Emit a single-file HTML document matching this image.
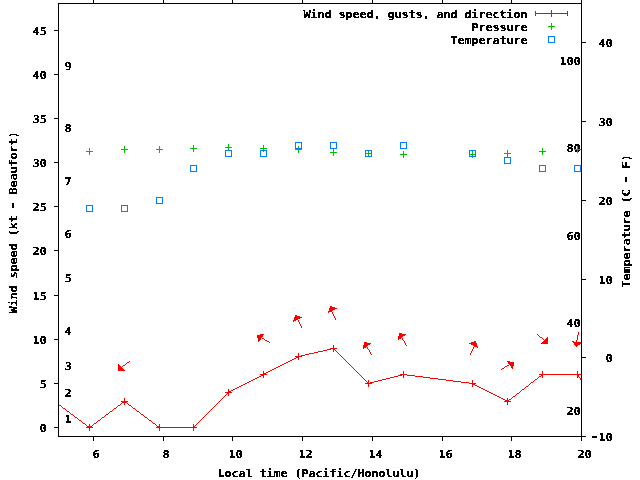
<!DOCTYPE html>
<html lang="en"><head><meta charset="utf-8"><title>Wind speed, pressure and temperature</title>
<style>
html,body{margin:0;padding:0;background:#fff;width:640px;height:480px;overflow:hidden}
svg{display:block}
.t text{font-family:"DejaVu Sans Mono", "Liberation Mono", monospace;font-weight:bold;font-size:10.96px;letter-spacing:-0.234px;fill:#000;stroke:#000;stroke-width:0.15px;white-space:pre;text-rendering:geometricPrecision}
</style></head><body>
<svg width="640" height="480" viewBox="0 0 640 480">
<rect width="640" height="480" fill="#ffffff"/>
<filter id="px" x="0" y="0" width="100%" height="100%" filterUnits="userSpaceOnUse" color-interpolation-filters="sRGB"><feComponentTransfer><feFuncA type="discrete" tableValues="0 0 1 1"/></feComponentTransfer></filter>
<g class="t" filter="url(#px)">
<text transform="translate(39.45,432) scale(1.1000,1)">0</text>
<text transform="translate(39.45,388) scale(1.1000,1)">5</text>
<text transform="translate(32.45,344) scale(1.1000,1)">10</text>
<text transform="translate(32.45,300) scale(1.1000,1)">15</text>
<text transform="translate(32.45,255) scale(1.1000,1)">20</text>
<text transform="translate(32.45,211) scale(1.1000,1)">25</text>
<text transform="translate(32.45,167) scale(1.1000,1)">30</text>
<text transform="translate(32.45,123) scale(1.1000,1)">35</text>
<text transform="translate(32.45,79) scale(1.1000,1)">40</text>
<text transform="translate(32.45,35) scale(1.1000,1)">45</text>
<text transform="translate(591.45,441) scale(1.1000,1)"><tspan font-size="14.5" dx="-1.35" dy="0.2" style="letter-spacing:-1.01px">-</tspan><tspan dy="-0.2">10</tspan></text>
<text transform="translate(605.45,362) scale(1.1000,1)">0</text>
<text transform="translate(598.45,284) scale(1.1000,1)">10</text>
<text transform="translate(598.45,205) scale(1.1000,1)">20</text>
<text transform="translate(598.45,126) scale(1.1000,1)">30</text>
<text transform="translate(598.45,47) scale(1.1000,1)">40</text>
<text transform="translate(92.45,458) scale(1.1000,1)">6</text>
<text transform="translate(162.45,458) scale(1.1000,1)">8</text>
<text transform="translate(228.45,458) scale(1.1000,1)">10</text>
<text transform="translate(298.45,458) scale(1.1000,1)">12</text>
<text transform="translate(368.45,458) scale(1.1000,1)">14</text>
<text transform="translate(438.45,458) scale(1.1000,1)">16</text>
<text transform="translate(507.45,458) scale(1.1000,1)">18</text>
<text transform="translate(577.45,458) scale(1.1000,1)">20</text>
<text transform="translate(64.45,423) scale(1.1000,1)">1</text>
<text transform="translate(64.45,397) scale(1.1000,1)">2</text>
<text transform="translate(64.45,370) scale(1.1000,1)">3</text>
<text transform="translate(64.45,335) scale(1.1000,1)">4</text>
<text transform="translate(64.45,282) scale(1.1000,1)">5</text>
<text transform="translate(64.45,238) scale(1.1000,1)">6</text>
<text transform="translate(64.45,185) scale(1.1000,1)">7</text>
<text transform="translate(64.45,132) scale(1.1000,1)">8</text>
<text transform="translate(64.45,70) scale(1.1000,1)">9</text>
<text transform="translate(566.45,415) scale(1.1000,1)">20</text>
<text transform="translate(566.45,327) scale(1.1000,1)">40</text>
<text transform="translate(566.45,240) scale(1.1000,1)">60</text>
<text transform="translate(566.45,152) scale(1.1000,1)">80</text>
<text transform="translate(559.45,65) scale(1.1000,1)">100</text>
<text transform="translate(217.45,477) scale(1.1000,1)">Local time (Pacific/Honolulu)</text>
<text transform="translate(17,313.55) rotate(-90) scale(1.1000,1)">Wind speed (kt <tspan font-size="14.5" dx="-1.35" dy="0.2" style="letter-spacing:-1.01px">-</tspan><tspan dy="-0.2"> Beaufort)</tspan></text>
<text transform="translate(630,287.55) rotate(-90) scale(1.1000,1)">Temperature (C <tspan font-size="14.5" dx="-1.35" dy="0.2" style="letter-spacing:-1.01px">-</tspan><tspan dy="-0.2"> F)</tspan></text>
<text transform="translate(303.45,18) scale(1.1000,1)">Wind speed, gusts, and direction</text>
<text transform="translate(471.45,31) scale(1.1000,1)">Pressure</text>
<text transform="translate(450.45,44) scale(1.1000,1)">Temperature</text>
</g>
<g shape-rendering="crispEdges">
<path class="axes" fill="#000000" d="M93 0h1v1h-1zM163 0h1v1h-1zM232 0h1v1h-1zM302 0h1v1h-1zM372 0h1v1h-1zM442 0h1v1h-1zM511 0h1v1h-1zM581 0h1v1h-1zM93 1h1v1h-1zM163 1h1v1h-1zM232 1h1v1h-1zM302 1h1v1h-1zM372 1h1v1h-1zM442 1h1v1h-1zM511 1h1v1h-1zM581 1h1v1h-1zM93 2h1v1h-1zM163 2h1v1h-1zM232 2h1v1h-1zM302 2h1v1h-1zM372 2h1v1h-1zM442 2h1v1h-1zM511 2h1v1h-1zM581 2h1v1h-1zM58 3h524v1h-524zM58 4h1v1h-1zM581 4h1v1h-1zM58 5h1v1h-1zM581 5h1v1h-1zM58 6h1v1h-1zM581 6h1v1h-1zM58 7h1v1h-1zM581 7h1v1h-1zM58 8h1v1h-1zM581 8h1v1h-1zM58 9h1v1h-1zM581 9h1v1h-1zM58 10h1v1h-1zM581 10h1v1h-1zM58 11h1v1h-1zM581 11h1v1h-1zM58 12h1v1h-1zM581 12h1v1h-1zM58 13h1v1h-1zM581 13h1v1h-1zM58 14h1v1h-1zM581 14h1v1h-1zM58 15h1v1h-1zM581 15h1v1h-1zM58 16h1v1h-1zM581 16h1v1h-1zM58 17h1v1h-1zM581 17h1v1h-1zM58 18h1v1h-1zM581 18h1v1h-1zM58 19h1v1h-1zM581 19h1v1h-1zM58 20h1v1h-1zM581 20h1v1h-1zM58 21h1v1h-1zM581 21h1v1h-1zM58 22h1v1h-1zM581 22h1v1h-1zM58 23h1v1h-1zM581 23h1v1h-1zM58 24h1v1h-1zM581 24h1v1h-1zM58 25h1v1h-1zM581 25h1v1h-1zM58 26h1v1h-1zM581 26h1v1h-1zM58 27h1v1h-1zM581 27h1v1h-1zM58 28h1v1h-1zM581 28h1v1h-1zM58 29h1v1h-1zM581 29h1v1h-1zM54 30h5v1h-5zM581 30h1v1h-1zM58 31h1v1h-1zM581 31h1v1h-1zM58 32h1v1h-1zM581 32h1v1h-1zM58 33h1v1h-1zM581 33h1v1h-1zM58 34h1v1h-1zM581 34h1v1h-1zM58 35h1v1h-1zM581 35h1v1h-1zM58 36h1v1h-1zM581 36h1v1h-1zM58 37h1v1h-1zM581 37h1v1h-1zM58 38h1v1h-1zM581 38h1v1h-1zM58 39h1v1h-1zM581 39h1v1h-1zM58 40h1v1h-1zM581 40h1v1h-1zM58 41h1v1h-1zM581 41h1v1h-1zM58 42h1v1h-1zM581 42h5v1h-5zM58 43h1v1h-1zM581 43h1v1h-1zM58 44h1v1h-1zM581 44h1v1h-1zM58 45h1v1h-1zM581 45h1v1h-1zM58 46h1v1h-1zM581 46h1v1h-1zM58 47h1v1h-1zM581 47h1v1h-1zM58 48h1v1h-1zM581 48h1v1h-1zM58 49h1v1h-1zM581 49h1v1h-1zM58 50h1v1h-1zM581 50h1v1h-1zM58 51h1v1h-1zM581 51h1v1h-1zM58 52h1v1h-1zM581 52h1v1h-1zM58 53h1v1h-1zM581 53h1v1h-1zM58 54h1v1h-1zM581 54h1v1h-1zM58 55h1v1h-1zM581 55h1v1h-1zM58 56h1v1h-1zM581 56h1v1h-1zM58 57h1v1h-1zM581 57h1v1h-1zM58 58h1v1h-1zM581 58h1v1h-1zM58 59h1v1h-1zM581 59h1v1h-1zM58 60h1v1h-1zM581 60h1v1h-1zM58 61h1v1h-1zM581 61h1v1h-1zM58 62h1v1h-1zM581 62h1v1h-1zM58 63h1v1h-1zM581 63h1v1h-1zM58 64h1v1h-1zM581 64h1v1h-1zM58 65h1v1h-1zM581 65h1v1h-1zM58 66h1v1h-1zM581 66h1v1h-1zM58 67h1v1h-1zM581 67h1v1h-1zM58 68h1v1h-1zM581 68h1v1h-1zM58 69h1v1h-1zM581 69h1v1h-1zM58 70h1v1h-1zM581 70h1v1h-1zM58 71h1v1h-1zM581 71h1v1h-1zM58 72h1v1h-1zM581 72h1v1h-1zM58 73h1v1h-1zM581 73h1v1h-1zM54 74h5v1h-5zM581 74h1v1h-1zM58 75h1v1h-1zM581 75h1v1h-1zM58 76h1v1h-1zM581 76h1v1h-1zM58 77h1v1h-1zM581 77h1v1h-1zM58 78h1v1h-1zM581 78h1v1h-1zM58 79h1v1h-1zM581 79h1v1h-1zM58 80h1v1h-1zM581 80h1v1h-1zM58 81h1v1h-1zM581 81h1v1h-1zM58 82h1v1h-1zM581 82h1v1h-1zM58 83h1v1h-1zM581 83h1v1h-1zM58 84h1v1h-1zM581 84h1v1h-1zM58 85h1v1h-1zM581 85h1v1h-1zM58 86h1v1h-1zM581 86h1v1h-1zM58 87h1v1h-1zM581 87h1v1h-1zM58 88h1v1h-1zM581 88h1v1h-1zM58 89h1v1h-1zM581 89h1v1h-1zM58 90h1v1h-1zM581 90h1v1h-1zM58 91h1v1h-1zM581 91h1v1h-1zM58 92h1v1h-1zM581 92h1v1h-1zM58 93h1v1h-1zM581 93h1v1h-1zM58 94h1v1h-1zM581 94h1v1h-1zM58 95h1v1h-1zM581 95h1v1h-1zM58 96h1v1h-1zM581 96h1v1h-1zM58 97h1v1h-1zM581 97h1v1h-1zM58 98h1v1h-1zM581 98h1v1h-1zM58 99h1v1h-1zM581 99h1v1h-1zM58 100h1v1h-1zM581 100h1v1h-1zM58 101h1v1h-1zM581 101h1v1h-1zM58 102h1v1h-1zM581 102h1v1h-1zM58 103h1v1h-1zM581 103h1v1h-1zM58 104h1v1h-1zM581 104h1v1h-1zM58 105h1v1h-1zM581 105h1v1h-1zM58 106h1v1h-1zM581 106h1v1h-1zM58 107h1v1h-1zM581 107h1v1h-1zM58 108h1v1h-1zM581 108h1v1h-1zM58 109h1v1h-1zM581 109h1v1h-1zM58 110h1v1h-1zM581 110h1v1h-1zM58 111h1v1h-1zM581 111h1v1h-1zM58 112h1v1h-1zM581 112h1v1h-1zM58 113h1v1h-1zM581 113h1v1h-1zM58 114h1v1h-1zM581 114h1v1h-1zM58 115h1v1h-1zM581 115h1v1h-1zM58 116h1v1h-1zM581 116h1v1h-1zM58 117h1v1h-1zM581 117h1v1h-1zM54 118h5v1h-5zM581 118h1v1h-1zM58 119h1v1h-1zM581 119h1v1h-1zM58 120h1v1h-1zM581 120h1v1h-1zM58 121h1v1h-1zM581 121h5v1h-5zM58 122h1v1h-1zM581 122h1v1h-1zM58 123h1v1h-1zM581 123h1v1h-1zM58 124h1v1h-1zM581 124h1v1h-1zM58 125h1v1h-1zM581 125h1v1h-1zM58 126h1v1h-1zM581 126h1v1h-1zM58 127h1v1h-1zM581 127h1v1h-1zM58 128h1v1h-1zM581 128h1v1h-1zM58 129h1v1h-1zM581 129h1v1h-1zM58 130h1v1h-1zM581 130h1v1h-1zM58 131h1v1h-1zM581 131h1v1h-1zM58 132h1v1h-1zM581 132h1v1h-1zM58 133h1v1h-1zM581 133h1v1h-1zM58 134h1v1h-1zM581 134h1v1h-1zM58 135h1v1h-1zM581 135h1v1h-1zM58 136h1v1h-1zM581 136h1v1h-1zM58 137h1v1h-1zM581 137h1v1h-1zM58 138h1v1h-1zM581 138h1v1h-1zM58 139h1v1h-1zM581 139h1v1h-1zM58 140h1v1h-1zM581 140h1v1h-1zM58 141h1v1h-1zM581 141h1v1h-1zM58 142h1v1h-1zM581 142h1v1h-1zM58 143h1v1h-1zM581 143h1v1h-1zM58 144h1v1h-1zM581 144h1v1h-1zM58 145h1v1h-1zM581 145h1v1h-1zM58 146h1v1h-1zM581 146h1v1h-1zM58 147h1v1h-1zM581 147h1v1h-1zM58 148h1v1h-1zM581 148h1v1h-1zM58 149h1v1h-1zM581 149h1v1h-1zM58 150h1v1h-1zM581 150h1v1h-1zM58 151h1v1h-1zM581 151h1v1h-1zM58 152h1v1h-1zM581 152h1v1h-1zM58 153h1v1h-1zM581 153h1v1h-1zM58 154h1v1h-1zM581 154h1v1h-1zM58 155h1v1h-1zM581 155h1v1h-1zM58 156h1v1h-1zM581 156h1v1h-1zM58 157h1v1h-1zM581 157h1v1h-1zM58 158h1v1h-1zM581 158h1v1h-1zM58 159h1v1h-1zM581 159h1v1h-1zM58 160h1v1h-1zM581 160h1v1h-1zM58 161h1v1h-1zM581 161h1v1h-1zM54 162h5v1h-5zM581 162h1v1h-1zM58 163h1v1h-1zM581 163h1v1h-1zM58 164h1v1h-1zM581 164h1v1h-1zM58 165h1v1h-1zM581 165h1v1h-1zM58 166h1v1h-1zM581 166h1v1h-1zM58 167h1v1h-1zM581 167h1v1h-1zM58 168h1v1h-1zM581 168h1v1h-1zM58 169h1v1h-1zM581 169h1v1h-1zM58 170h1v1h-1zM581 170h1v1h-1zM58 171h1v1h-1zM581 171h1v1h-1zM58 172h1v1h-1zM581 172h1v1h-1zM58 173h1v1h-1zM581 173h1v1h-1zM58 174h1v1h-1zM581 174h1v1h-1zM58 175h1v1h-1zM581 175h1v1h-1zM58 176h1v1h-1zM581 176h1v1h-1zM58 177h1v1h-1zM581 177h1v1h-1zM58 178h1v1h-1zM581 178h1v1h-1zM58 179h1v1h-1zM581 179h1v1h-1zM58 180h1v1h-1zM581 180h1v1h-1zM58 181h1v1h-1zM581 181h1v1h-1zM58 182h1v1h-1zM581 182h1v1h-1zM58 183h1v1h-1zM581 183h1v1h-1zM58 184h1v1h-1zM581 184h1v1h-1zM58 185h1v1h-1zM581 185h1v1h-1zM58 186h1v1h-1zM581 186h1v1h-1zM58 187h1v1h-1zM581 187h1v1h-1zM58 188h1v1h-1zM581 188h1v1h-1zM58 189h1v1h-1zM581 189h1v1h-1zM58 190h1v1h-1zM581 190h1v1h-1zM58 191h1v1h-1zM581 191h1v1h-1zM58 192h1v1h-1zM581 192h1v1h-1zM58 193h1v1h-1zM581 193h1v1h-1zM58 194h1v1h-1zM581 194h1v1h-1zM58 195h1v1h-1zM581 195h1v1h-1zM58 196h1v1h-1zM581 196h1v1h-1zM58 197h1v1h-1zM581 197h1v1h-1zM58 198h1v1h-1zM581 198h1v1h-1zM58 199h1v1h-1zM581 199h1v1h-1zM58 200h1v1h-1zM581 200h5v1h-5zM58 201h1v1h-1zM581 201h1v1h-1zM58 202h1v1h-1zM581 202h1v1h-1zM58 203h1v1h-1zM581 203h1v1h-1zM58 204h1v1h-1zM581 204h1v1h-1zM58 205h1v1h-1zM581 205h1v1h-1zM54 206h5v1h-5zM581 206h1v1h-1zM58 207h1v1h-1zM581 207h1v1h-1zM58 208h1v1h-1zM581 208h1v1h-1zM58 209h1v1h-1zM581 209h1v1h-1zM58 210h1v1h-1zM581 210h1v1h-1zM58 211h1v1h-1zM581 211h1v1h-1zM58 212h1v1h-1zM581 212h1v1h-1zM58 213h1v1h-1zM581 213h1v1h-1zM58 214h1v1h-1zM581 214h1v1h-1zM58 215h1v1h-1zM581 215h1v1h-1zM58 216h1v1h-1zM581 216h1v1h-1zM58 217h1v1h-1zM581 217h1v1h-1zM58 218h1v1h-1zM581 218h1v1h-1zM58 219h1v1h-1zM581 219h1v1h-1zM58 220h1v1h-1zM581 220h1v1h-1zM58 221h1v1h-1zM581 221h1v1h-1zM58 222h1v1h-1zM581 222h1v1h-1zM58 223h1v1h-1zM581 223h1v1h-1zM58 224h1v1h-1zM581 224h1v1h-1zM58 225h1v1h-1zM581 225h1v1h-1zM58 226h1v1h-1zM581 226h1v1h-1zM58 227h1v1h-1zM581 227h1v1h-1zM58 228h1v1h-1zM581 228h1v1h-1zM58 229h1v1h-1zM581 229h1v1h-1zM58 230h1v1h-1zM581 230h1v1h-1zM58 231h1v1h-1zM581 231h1v1h-1zM58 232h1v1h-1zM581 232h1v1h-1zM58 233h1v1h-1zM581 233h1v1h-1zM58 234h1v1h-1zM581 234h1v1h-1zM58 235h1v1h-1zM581 235h1v1h-1zM58 236h1v1h-1zM581 236h1v1h-1zM58 237h1v1h-1zM581 237h1v1h-1zM58 238h1v1h-1zM581 238h1v1h-1zM58 239h1v1h-1zM581 239h1v1h-1zM58 240h1v1h-1zM581 240h1v1h-1zM58 241h1v1h-1zM581 241h1v1h-1zM58 242h1v1h-1zM581 242h1v1h-1zM58 243h1v1h-1zM581 243h1v1h-1zM58 244h1v1h-1zM581 244h1v1h-1zM58 245h1v1h-1zM581 245h1v1h-1zM58 246h1v1h-1zM581 246h1v1h-1zM58 247h1v1h-1zM581 247h1v1h-1zM58 248h1v1h-1zM581 248h1v1h-1zM58 249h1v1h-1zM581 249h1v1h-1zM54 250h5v1h-5zM581 250h1v1h-1zM58 251h1v1h-1zM581 251h1v1h-1zM58 252h1v1h-1zM581 252h1v1h-1zM58 253h1v1h-1zM581 253h1v1h-1zM58 254h1v1h-1zM581 254h1v1h-1zM58 255h1v1h-1zM581 255h1v1h-1zM58 256h1v1h-1zM581 256h1v1h-1zM58 257h1v1h-1zM581 257h1v1h-1zM58 258h1v1h-1zM581 258h1v1h-1zM58 259h1v1h-1zM581 259h1v1h-1zM58 260h1v1h-1zM581 260h1v1h-1zM58 261h1v1h-1zM581 261h1v1h-1zM58 262h1v1h-1zM581 262h1v1h-1zM58 263h1v1h-1zM581 263h1v1h-1zM58 264h1v1h-1zM581 264h1v1h-1zM58 265h1v1h-1zM581 265h1v1h-1zM58 266h1v1h-1zM581 266h1v1h-1zM58 267h1v1h-1zM581 267h1v1h-1zM58 268h1v1h-1zM581 268h1v1h-1zM58 269h1v1h-1zM581 269h1v1h-1zM58 270h1v1h-1zM581 270h1v1h-1zM58 271h1v1h-1zM581 271h1v1h-1zM58 272h1v1h-1zM581 272h1v1h-1zM58 273h1v1h-1zM581 273h1v1h-1zM58 274h1v1h-1zM581 274h1v1h-1zM58 275h1v1h-1zM581 275h1v1h-1zM58 276h1v1h-1zM581 276h1v1h-1zM58 277h1v1h-1zM581 277h1v1h-1zM58 278h1v1h-1zM581 278h1v1h-1zM58 279h1v1h-1zM581 279h5v1h-5zM58 280h1v1h-1zM581 280h1v1h-1zM58 281h1v1h-1zM581 281h1v1h-1zM58 282h1v1h-1zM581 282h1v1h-1zM58 283h1v1h-1zM581 283h1v1h-1zM58 284h1v1h-1zM581 284h1v1h-1zM58 285h1v1h-1zM581 285h1v1h-1zM58 286h1v1h-1zM581 286h1v1h-1zM58 287h1v1h-1zM581 287h1v1h-1zM58 288h1v1h-1zM581 288h1v1h-1zM58 289h1v1h-1zM581 289h1v1h-1zM58 290h1v1h-1zM581 290h1v1h-1zM58 291h1v1h-1zM581 291h1v1h-1zM58 292h1v1h-1zM581 292h1v1h-1zM58 293h1v1h-1zM581 293h1v1h-1zM58 294h1v1h-1zM581 294h1v1h-1zM54 295h5v1h-5zM581 295h1v1h-1zM58 296h1v1h-1zM581 296h1v1h-1zM58 297h1v1h-1zM581 297h1v1h-1zM58 298h1v1h-1zM581 298h1v1h-1zM58 299h1v1h-1zM581 299h1v1h-1zM58 300h1v1h-1zM581 300h1v1h-1zM58 301h1v1h-1zM581 301h1v1h-1zM58 302h1v1h-1zM581 302h1v1h-1zM58 303h1v1h-1zM581 303h1v1h-1zM58 304h1v1h-1zM581 304h1v1h-1zM58 305h1v1h-1zM581 305h1v1h-1zM58 306h1v1h-1zM581 306h1v1h-1zM58 307h1v1h-1zM581 307h1v1h-1zM58 308h1v1h-1zM581 308h1v1h-1zM58 309h1v1h-1zM581 309h1v1h-1zM58 310h1v1h-1zM581 310h1v1h-1zM58 311h1v1h-1zM581 311h1v1h-1zM58 312h1v1h-1zM581 312h1v1h-1zM58 313h1v1h-1zM581 313h1v1h-1zM58 314h1v1h-1zM581 314h1v1h-1zM58 315h1v1h-1zM581 315h1v1h-1zM58 316h1v1h-1zM581 316h1v1h-1zM58 317h1v1h-1zM581 317h1v1h-1zM58 318h1v1h-1zM581 318h1v1h-1zM58 319h1v1h-1zM581 319h1v1h-1zM58 320h1v1h-1zM581 320h1v1h-1zM58 321h1v1h-1zM581 321h1v1h-1zM58 322h1v1h-1zM581 322h1v1h-1zM58 323h1v1h-1zM581 323h1v1h-1zM58 324h1v1h-1zM581 324h1v1h-1zM58 325h1v1h-1zM581 325h1v1h-1zM58 326h1v1h-1zM581 326h1v1h-1zM58 327h1v1h-1zM581 327h1v1h-1zM58 328h1v1h-1zM581 328h1v1h-1zM58 329h1v1h-1zM581 329h1v1h-1zM58 330h1v1h-1zM581 330h1v1h-1zM58 331h1v1h-1zM581 331h1v1h-1zM58 332h1v1h-1zM581 332h1v1h-1zM58 333h1v1h-1zM581 333h1v1h-1zM58 334h1v1h-1zM581 334h1v1h-1zM58 335h1v1h-1zM581 335h1v1h-1zM58 336h1v1h-1zM581 336h1v1h-1zM58 337h1v1h-1zM581 337h1v1h-1zM58 338h1v1h-1zM581 338h1v1h-1zM54 339h5v1h-5zM581 339h1v1h-1zM58 340h1v1h-1zM581 340h1v1h-1zM58 341h1v1h-1zM581 341h1v1h-1zM58 342h1v1h-1zM581 342h1v1h-1zM58 343h1v1h-1zM581 343h1v1h-1zM58 344h1v1h-1zM581 344h1v1h-1zM58 345h1v1h-1zM581 345h1v1h-1zM58 346h1v1h-1zM581 346h1v1h-1zM58 347h1v1h-1zM581 347h1v1h-1zM58 348h1v1h-1zM581 348h1v1h-1zM58 349h1v1h-1zM581 349h1v1h-1zM58 350h1v1h-1zM581 350h1v1h-1zM58 351h1v1h-1zM581 351h1v1h-1zM58 352h1v1h-1zM581 352h1v1h-1zM58 353h1v1h-1zM581 353h1v1h-1zM58 354h1v1h-1zM581 354h1v1h-1zM58 355h1v1h-1zM581 355h1v1h-1zM58 356h1v1h-1zM581 356h1v1h-1zM58 357h1v1h-1zM581 357h5v1h-5zM58 358h1v1h-1zM581 358h1v1h-1zM58 359h1v1h-1zM581 359h1v1h-1zM58 360h1v1h-1zM581 360h1v1h-1zM58 361h1v1h-1zM581 361h1v1h-1zM58 362h1v1h-1zM581 362h1v1h-1zM58 363h1v1h-1zM581 363h1v1h-1zM58 364h1v1h-1zM581 364h1v1h-1zM58 365h1v1h-1zM581 365h1v1h-1zM58 366h1v1h-1zM581 366h1v1h-1zM58 367h1v1h-1zM581 367h1v1h-1zM58 368h1v1h-1zM581 368h1v1h-1zM58 369h1v1h-1zM581 369h1v1h-1zM58 370h1v1h-1zM581 370h1v1h-1zM58 371h1v1h-1zM581 371h1v1h-1zM58 372h1v1h-1zM581 372h1v1h-1zM58 373h1v1h-1zM581 373h1v1h-1zM58 374h1v1h-1zM581 374h1v1h-1zM58 375h1v1h-1zM581 375h1v1h-1zM58 376h1v1h-1zM581 376h1v1h-1zM58 377h1v1h-1zM581 377h1v1h-1zM58 378h1v1h-1zM581 378h1v1h-1zM58 379h1v1h-1zM581 379h1v1h-1zM58 380h1v1h-1zM581 380h1v1h-1zM58 381h1v1h-1zM581 381h1v1h-1zM58 382h1v1h-1zM581 382h1v1h-1zM54 383h5v1h-5zM581 383h1v1h-1zM58 384h1v1h-1zM581 384h1v1h-1zM58 385h1v1h-1zM581 385h1v1h-1zM58 386h1v1h-1zM581 386h1v1h-1zM58 387h1v1h-1zM581 387h1v1h-1zM58 388h1v1h-1zM581 388h1v1h-1zM58 389h1v1h-1zM581 389h1v1h-1zM58 390h1v1h-1zM581 390h1v1h-1zM58 391h1v1h-1zM581 391h1v1h-1zM58 392h1v1h-1zM581 392h1v1h-1zM58 393h1v1h-1zM581 393h1v1h-1zM58 394h1v1h-1zM581 394h1v1h-1zM58 395h1v1h-1zM581 395h1v1h-1zM58 396h1v1h-1zM581 396h1v1h-1zM58 397h1v1h-1zM581 397h1v1h-1zM58 398h1v1h-1zM581 398h1v1h-1zM58 399h1v1h-1zM581 399h1v1h-1zM58 400h1v1h-1zM581 400h1v1h-1zM58 401h1v1h-1zM581 401h1v1h-1zM58 402h1v1h-1zM581 402h1v1h-1zM58 403h1v1h-1zM581 403h1v1h-1zM58 404h1v1h-1zM581 404h1v1h-1zM58 405h1v1h-1zM581 405h1v1h-1zM58 406h1v1h-1zM581 406h1v1h-1zM58 407h1v1h-1zM581 407h1v1h-1zM58 408h1v1h-1zM581 408h1v1h-1zM58 409h1v1h-1zM581 409h1v1h-1zM58 410h1v1h-1zM581 410h1v1h-1zM58 411h1v1h-1zM581 411h1v1h-1zM58 412h1v1h-1zM581 412h1v1h-1zM58 413h1v1h-1zM581 413h1v1h-1zM58 414h1v1h-1zM581 414h1v1h-1zM58 415h1v1h-1zM581 415h1v1h-1zM58 416h1v1h-1zM581 416h1v1h-1zM58 417h1v1h-1zM581 417h1v1h-1zM58 418h1v1h-1zM581 418h1v1h-1zM58 419h1v1h-1zM581 419h1v1h-1zM58 420h1v1h-1zM581 420h1v1h-1zM58 421h1v1h-1zM581 421h1v1h-1zM58 422h1v1h-1zM581 422h1v1h-1zM58 423h1v1h-1zM581 423h1v1h-1zM58 424h1v1h-1zM581 424h1v1h-1zM58 425h1v1h-1zM581 425h1v1h-1zM58 426h1v1h-1zM581 426h1v1h-1zM54 427h5v1h-5zM581 427h1v1h-1zM58 428h1v1h-1zM581 428h1v1h-1zM58 429h1v1h-1zM581 429h1v1h-1zM58 430h1v1h-1zM581 430h1v1h-1zM58 431h1v1h-1zM581 431h1v1h-1zM58 432h1v1h-1zM581 432h1v1h-1zM58 433h1v1h-1zM581 433h1v1h-1zM58 434h1v1h-1zM581 434h1v1h-1zM58 435h1v1h-1zM581 435h1v1h-1zM58 436h528v1h-528zM93 437h1v1h-1zM163 437h1v1h-1zM232 437h1v1h-1zM302 437h1v1h-1zM372 437h1v1h-1zM442 437h1v1h-1zM511 437h1v1h-1zM581 437h1v1h-1zM93 438h1v1h-1zM163 438h1v1h-1zM232 438h1v1h-1zM302 438h1v1h-1zM372 438h1v1h-1zM442 438h1v1h-1zM511 438h1v1h-1zM581 438h1v1h-1zM93 439h1v1h-1zM163 439h1v1h-1zM232 439h1v1h-1zM302 439h1v1h-1zM372 439h1v1h-1zM442 439h1v1h-1zM511 439h1v1h-1zM581 439h1v1h-1zM93 440h1v1h-1zM163 440h1v1h-1zM232 440h1v1h-1zM302 440h1v1h-1zM372 440h1v1h-1zM442 440h1v1h-1zM511 440h1v1h-1zM581 440h1v1h-1z"/>
<path class="wind" fill="#ff0000" d="M551 10h1v1h-1zM535 11h1v1h-1zM551 11h1v1h-1zM567 11h1v1h-1zM535 12h1v1h-1zM551 12h1v1h-1zM567 12h1v1h-1zM535 13h33v1h-33zM535 14h1v1h-1zM551 14h1v1h-1zM567 14h1v1h-1zM535 15h1v1h-1zM551 15h1v1h-1zM567 15h1v1h-1zM551 16h1v1h-1zM330 306h2v1h-2zM330 307h5v1h-5zM329 308h8v1h-8zM329 309h6v1h-6zM329 310h4v1h-4zM328 311h4v1h-4zM328 312h1v1h-1zM332 312h1v1h-1zM332 313h1v1h-1zM333 314h1v1h-1zM295 315h2v1h-2zM333 315h1v1h-1zM295 316h5v1h-5zM334 316h1v1h-1zM294 317h8v1h-8zM334 317h1v1h-1zM294 318h6v1h-6zM335 318h1v1h-1zM294 319h4v1h-4zM335 319h1v1h-1zM293 320h3v1h-3zM298 320h1v1h-1zM293 321h1v1h-1zM298 321h1v1h-1zM299 322h1v1h-1zM299 323h1v1h-1zM300 324h1v1h-1zM300 325h1v1h-1zM301 326h1v1h-1zM301 327h1v1h-1zM578 332h1v1h-1zM399 333h3v1h-3zM578 333h1v1h-1zM260 334h4v1h-4zM399 334h7v1h-7zM537 334h1v1h-1zM578 334h1v1h-1zM257 335h6v1h-6zM399 335h6v1h-6zM538 335h1v1h-1zM577 335h1v1h-1zM257 336h6v1h-6zM398 336h5v1h-5zM539 336h1v1h-1zM577 336h1v1h-1zM257 337h5v1h-5zM398 337h4v1h-4zM540 337h2v1h-2zM547 337h1v1h-1zM577 337h1v1h-1zM258 338h3v1h-3zM262 338h2v1h-2zM398 338h3v1h-3zM402 338h1v1h-1zM542 338h1v1h-1zM546 338h2v1h-2zM577 338h1v1h-1zM258 339h3v1h-3zM264 339h1v1h-1zM398 339h1v1h-1zM402 339h1v1h-1zM543 339h1v1h-1zM545 339h3v1h-3zM577 339h1v1h-1zM258 340h2v1h-2zM265 340h2v1h-2zM403 340h1v1h-1zM544 340h4v1h-4zM576 340h1v1h-1zM258 341h1v1h-1zM267 341h2v1h-2zM404 341h1v1h-1zM474 341h2v1h-2zM543 341h5v1h-5zM572 341h2v1h-2zM576 341h1v1h-1zM269 342h1v1h-1zM364 342h3v1h-3zM404 342h1v1h-1zM471 342h5v1h-5zM542 342h6v1h-6zM573 342h8v1h-8zM364 343h7v1h-7zM405 343h1v1h-1zM469 343h8v1h-8zM541 343h7v1h-7zM574 343h7v1h-7zM364 344h6v1h-6zM405 344h1v1h-1zM471 344h6v1h-6zM574 344h6v1h-6zM333 345h1v1h-1zM363 345h5v1h-5zM406 345h1v1h-1zM473 345h4v1h-4zM575 345h3v1h-3zM333 346h1v1h-1zM363 346h4v1h-4zM474 346h4v1h-4zM576 346h1v1h-1zM333 347h1v1h-1zM363 347h3v1h-3zM367 347h1v1h-1zM473 347h1v1h-1zM477 347h1v1h-1zM330 348h7v1h-7zM363 348h1v1h-1zM367 348h1v1h-1zM473 348h1v1h-1zM327 349h4v1h-4zM333 349h2v1h-2zM368 349h1v1h-1zM472 349h1v1h-1zM323 350h4v1h-4zM333 350h1v1h-1zM335 350h1v1h-1zM369 350h1v1h-1zM472 350h1v1h-1zM318 351h5v1h-5zM333 351h1v1h-1zM336 351h1v1h-1zM369 351h1v1h-1zM471 351h1v1h-1zM314 352h4v1h-4zM337 352h1v1h-1zM370 352h1v1h-1zM471 352h1v1h-1zM298 353h1v1h-1zM309 353h5v1h-5zM338 353h1v1h-1zM370 353h1v1h-1zM470 353h1v1h-1zM298 354h1v1h-1zM305 354h4v1h-4zM339 354h1v1h-1zM371 354h1v1h-1zM470 354h1v1h-1zM298 355h1v1h-1zM301 355h4v1h-4zM340 355h1v1h-1zM295 356h7v1h-7zM341 356h1v1h-1zM296 357h3v1h-3zM342 357h1v1h-1zM294 358h2v1h-2zM298 358h1v1h-1zM343 358h1v1h-1zM292 359h2v1h-2zM298 359h1v1h-1zM344 359h1v1h-1zM290 360h2v1h-2zM345 360h1v1h-1zM129 361h1v1h-1zM288 361h2v1h-2zM346 361h1v1h-1zM507 361h3v1h-3zM127 362h2v1h-2zM286 362h2v1h-2zM347 362h1v1h-1zM508 362h6v1h-6zM126 363h1v1h-1zM284 363h2v1h-2zM348 363h1v1h-1zM508 363h6v1h-6zM118 364h1v1h-1zM125 364h1v1h-1zM282 364h2v1h-2zM349 364h1v1h-1zM509 364h5v1h-5zM118 365h2v1h-2zM123 365h2v1h-2zM280 365h2v1h-2zM350 365h1v1h-1zM507 365h2v1h-2zM510 365h4v1h-4zM118 366h3v1h-3zM122 366h1v1h-1zM278 366h2v1h-2zM351 366h1v1h-1zM505 366h2v1h-2zM511 366h2v1h-2zM118 367h4v1h-4zM276 367h2v1h-2zM352 367h1v1h-1zM504 367h1v1h-1zM511 367h2v1h-2zM118 368h5v1h-5zM274 368h2v1h-2zM353 368h1v1h-1zM502 368h2v1h-2zM512 368h1v1h-1zM118 369h6v1h-6zM272 369h2v1h-2zM354 369h1v1h-1zM501 369h1v1h-1zM118 370h7v1h-7zM270 370h2v1h-2zM355 370h1v1h-1zM263 371h1v1h-1zM268 371h2v1h-2zM356 371h1v1h-1zM403 371h1v1h-1zM542 371h1v1h-1zM577 371h1v1h-1zM263 372h1v1h-1zM266 372h2v1h-2zM357 372h1v1h-1zM403 372h1v1h-1zM542 372h1v1h-1zM577 372h1v1h-1zM263 373h3v1h-3zM358 373h1v1h-1zM403 373h1v1h-1zM542 373h1v1h-1zM577 373h1v1h-1zM260 374h7v1h-7zM359 374h1v1h-1zM400 374h7v1h-7zM539 374h42v1h-42zM261 375h3v1h-3zM360 375h1v1h-1zM398 375h4v1h-4zM403 375h1v1h-1zM407 375h8v1h-8zM541 375h2v1h-2zM577 375h2v1h-2zM259 376h2v1h-2zM263 376h1v1h-1zM361 376h1v1h-1zM394 376h4v1h-4zM403 376h1v1h-1zM415 376h8v1h-8zM539 376h2v1h-2zM542 376h1v1h-1zM577 376h2v1h-2zM257 377h2v1h-2zM263 377h1v1h-1zM362 377h1v1h-1zM390 377h4v1h-4zM403 377h1v1h-1zM423 377h7v1h-7zM538 377h1v1h-1zM542 377h1v1h-1zM577 377h1v1h-1zM579 377h1v1h-1zM255 378h2v1h-2zM363 378h1v1h-1zM386 378h4v1h-4zM430 378h8v1h-8zM537 378h1v1h-1zM580 378h1v1h-1zM253 379h2v1h-2zM364 379h1v1h-1zM382 379h4v1h-4zM438 379h8v1h-8zM535 379h2v1h-2zM580 379h1v1h-1zM251 380h2v1h-2zM365 380h1v1h-1zM368 380h1v1h-1zM378 380h4v1h-4zM446 380h7v1h-7zM472 380h1v1h-1zM534 380h1v1h-1zM249 381h2v1h-2zM366 381h1v1h-1zM368 381h1v1h-1zM374 381h4v1h-4zM453 381h8v1h-8zM472 381h1v1h-1zM533 381h1v1h-1zM247 382h2v1h-2zM367 382h2v1h-2zM370 382h4v1h-4zM461 382h8v1h-8zM472 382h1v1h-1zM531 382h2v1h-2zM245 383h2v1h-2zM365 383h7v1h-7zM469 383h7v1h-7zM530 383h1v1h-1zM243 384h2v1h-2zM368 384h1v1h-1zM472 384h3v1h-3zM529 384h1v1h-1zM241 385h2v1h-2zM368 385h1v1h-1zM472 385h1v1h-1zM475 385h2v1h-2zM528 385h1v1h-1zM239 386h2v1h-2zM368 386h1v1h-1zM472 386h1v1h-1zM477 386h2v1h-2zM526 386h2v1h-2zM237 387h2v1h-2zM479 387h2v1h-2zM525 387h1v1h-1zM235 388h2v1h-2zM481 388h2v1h-2zM524 388h1v1h-1zM228 389h1v1h-1zM233 389h2v1h-2zM483 389h2v1h-2zM522 389h2v1h-2zM228 390h1v1h-1zM231 390h2v1h-2zM485 390h2v1h-2zM521 390h1v1h-1zM228 391h3v1h-3zM487 391h2v1h-2zM520 391h1v1h-1zM225 392h7v1h-7zM489 392h2v1h-2zM519 392h1v1h-1zM227 393h2v1h-2zM491 393h2v1h-2zM517 393h2v1h-2zM226 394h1v1h-1zM228 394h1v1h-1zM493 394h2v1h-2zM516 394h1v1h-1zM225 395h1v1h-1zM228 395h1v1h-1zM495 395h2v1h-2zM515 395h1v1h-1zM224 396h1v1h-1zM497 396h2v1h-2zM513 396h2v1h-2zM223 397h1v1h-1zM499 397h2v1h-2zM512 397h1v1h-1zM124 398h1v1h-1zM222 398h1v1h-1zM501 398h2v1h-2zM507 398h1v1h-1zM511 398h1v1h-1zM124 399h1v1h-1zM221 399h1v1h-1zM503 399h2v1h-2zM507 399h1v1h-1zM509 399h2v1h-2zM124 400h1v1h-1zM220 400h1v1h-1zM505 400h4v1h-4zM121 401h7v1h-7zM219 401h1v1h-1zM504 401h7v1h-7zM122 402h5v1h-5zM218 402h1v1h-1zM507 402h1v1h-1zM121 403h1v1h-1zM124 403h1v1h-1zM127 403h1v1h-1zM217 403h1v1h-1zM507 403h1v1h-1zM120 404h1v1h-1zM124 404h1v1h-1zM128 404h1v1h-1zM216 404h1v1h-1zM507 404h1v1h-1zM59 405h2v1h-2zM118 405h2v1h-2zM129 405h2v1h-2zM215 405h1v1h-1zM61 406h1v1h-1zM117 406h1v1h-1zM131 406h1v1h-1zM214 406h1v1h-1zM62 407h1v1h-1zM116 407h1v1h-1zM132 407h1v1h-1zM213 407h1v1h-1zM63 408h2v1h-2zM114 408h2v1h-2zM133 408h2v1h-2zM212 408h1v1h-1zM65 409h1v1h-1zM113 409h1v1h-1zM135 409h1v1h-1zM211 409h1v1h-1zM66 410h1v1h-1zM112 410h1v1h-1zM136 410h1v1h-1zM210 410h1v1h-1zM67 411h2v1h-2zM110 411h2v1h-2zM137 411h2v1h-2zM209 411h1v1h-1zM69 412h1v1h-1zM109 412h1v1h-1zM139 412h1v1h-1zM208 412h1v1h-1zM70 413h1v1h-1zM108 413h1v1h-1zM140 413h1v1h-1zM207 413h1v1h-1zM71 414h2v1h-2zM106 414h2v1h-2zM141 414h2v1h-2zM206 414h1v1h-1zM73 415h1v1h-1zM105 415h1v1h-1zM143 415h1v1h-1zM205 415h1v1h-1zM74 416h1v1h-1zM104 416h1v1h-1zM144 416h1v1h-1zM204 416h1v1h-1zM75 417h2v1h-2zM102 417h2v1h-2zM145 417h2v1h-2zM203 417h1v1h-1zM77 418h1v1h-1zM101 418h1v1h-1zM147 418h1v1h-1zM202 418h1v1h-1zM78 419h1v1h-1zM100 419h1v1h-1zM148 419h1v1h-1zM201 419h1v1h-1zM79 420h2v1h-2zM98 420h2v1h-2zM149 420h2v1h-2zM200 420h1v1h-1zM81 421h1v1h-1zM97 421h1v1h-1zM151 421h1v1h-1zM199 421h1v1h-1zM82 422h1v1h-1zM96 422h1v1h-1zM152 422h1v1h-1zM198 422h1v1h-1zM83 423h2v1h-2zM94 423h2v1h-2zM153 423h2v1h-2zM197 423h1v1h-1zM85 424h1v1h-1zM89 424h1v1h-1zM93 424h1v1h-1zM155 424h1v1h-1zM159 424h1v1h-1zM193 424h1v1h-1zM196 424h1v1h-1zM86 425h1v1h-1zM89 425h1v1h-1zM92 425h1v1h-1zM156 425h1v1h-1zM159 425h1v1h-1zM193 425h1v1h-1zM195 425h1v1h-1zM87 426h5v1h-5zM157 426h3v1h-3zM193 426h2v1h-2zM86 427h7v1h-7zM156 427h41v1h-41zM89 428h1v1h-1zM159 428h1v1h-1zM193 428h1v1h-1zM89 429h1v1h-1zM159 429h1v1h-1zM193 429h1v1h-1zM89 430h1v1h-1zM159 430h1v1h-1zM193 430h1v1h-1z"/>
<path class="pressure" fill="#00c000" d="M551 23h1v1h-1zM551 24h1v1h-1zM551 25h1v1h-1zM548 26h7v1h-7zM551 27h1v1h-1zM551 28h1v1h-1zM551 29h1v1h-1zM228 144h1v1h-1zM193 145h1v1h-1zM228 145h1v1h-1zM263 145h1v1h-1zM124 146h1v1h-1zM159 146h1v1h-1zM193 146h1v1h-1zM228 146h1v1h-1zM263 146h1v1h-1zM298 146h1v1h-1zM577 146h1v1h-1zM124 147h1v1h-1zM159 147h1v1h-1zM193 147h1v1h-1zM225 147h7v1h-7zM263 147h1v1h-1zM298 147h1v1h-1zM577 147h1v1h-1zM89 148h1v1h-1zM124 148h1v1h-1zM159 148h1v1h-1zM190 148h7v1h-7zM228 148h1v1h-1zM260 148h7v1h-7zM542 148h1v1h-1zM577 148h1v1h-1zM89 149h1v1h-1zM121 149h7v1h-7zM156 149h7v1h-7zM193 149h1v1h-1zM228 149h1v1h-1zM263 149h1v1h-1zM295 149h7v1h-7zM333 149h1v1h-1zM542 149h1v1h-1zM574 149h7v1h-7zM89 150h1v1h-1zM124 150h1v1h-1zM159 150h1v1h-1zM193 150h1v1h-1zM298 150h1v1h-1zM333 150h1v1h-1zM507 150h1v1h-1zM542 150h1v1h-1zM577 150h1v1h-1zM86 151h7v1h-7zM124 151h1v1h-1zM159 151h1v1h-1zM193 151h1v1h-1zM263 151h1v1h-1zM298 151h1v1h-1zM333 151h1v1h-1zM368 151h1v1h-1zM403 151h1v1h-1zM472 151h1v1h-1zM507 151h1v1h-1zM539 151h7v1h-7zM577 151h1v1h-1zM89 152h1v1h-1zM124 152h1v1h-1zM159 152h1v1h-1zM298 152h1v1h-1zM330 152h7v1h-7zM368 152h1v1h-1zM403 152h1v1h-1zM472 152h1v1h-1zM507 152h1v1h-1zM542 152h1v1h-1zM577 152h1v1h-1zM89 153h1v1h-1zM333 153h1v1h-1zM366 153h5v1h-5zM403 153h1v1h-1zM472 153h1v1h-1zM504 153h7v1h-7zM542 153h1v1h-1zM89 154h1v1h-1zM333 154h1v1h-1zM368 154h1v1h-1zM400 154h7v1h-7zM470 154h5v1h-5zM507 154h1v1h-1zM542 154h1v1h-1zM333 155h1v1h-1zM368 155h1v1h-1zM403 155h1v1h-1zM472 155h1v1h-1zM507 155h1v1h-1zM403 156h1v1h-1zM507 156h1v1h-1zM403 157h1v1h-1zM472 157h1v1h-1z"/>
<path class="temperature" fill="#0080ff" d="M548 36h7v1h-7zM548 37h1v1h-1zM554 37h1v1h-1zM548 38h1v1h-1zM554 38h1v1h-1zM548 39h1v1h-1zM554 39h1v1h-1zM548 40h1v1h-1zM554 40h1v1h-1zM548 41h1v1h-1zM554 41h1v1h-1zM548 42h7v1h-7zM295 142h7v1h-7zM330 142h7v1h-7zM400 142h7v1h-7zM295 143h1v1h-1zM301 143h1v1h-1zM330 143h1v1h-1zM336 143h1v1h-1zM400 143h1v1h-1zM406 143h1v1h-1zM295 144h1v1h-1zM301 144h1v1h-1zM330 144h1v1h-1zM336 144h1v1h-1zM400 144h1v1h-1zM406 144h1v1h-1zM295 145h1v1h-1zM301 145h1v1h-1zM330 145h1v1h-1zM336 145h1v1h-1zM400 145h1v1h-1zM406 145h1v1h-1zM295 146h1v1h-1zM301 146h1v1h-1zM330 146h1v1h-1zM336 146h1v1h-1zM400 146h1v1h-1zM406 146h1v1h-1zM295 147h1v1h-1zM301 147h1v1h-1zM330 147h1v1h-1zM336 147h1v1h-1zM400 147h1v1h-1zM406 147h1v1h-1zM295 148h7v1h-7zM330 148h7v1h-7zM400 148h7v1h-7zM225 150h7v1h-7zM260 150h7v1h-7zM365 150h7v1h-7zM469 150h7v1h-7zM225 151h1v1h-1zM231 151h1v1h-1zM260 151h1v1h-1zM266 151h1v1h-1zM365 151h1v1h-1zM371 151h1v1h-1zM469 151h1v1h-1zM475 151h1v1h-1zM225 152h1v1h-1zM231 152h1v1h-1zM260 152h1v1h-1zM266 152h1v1h-1zM365 152h1v1h-1zM371 152h1v1h-1zM469 152h1v1h-1zM475 152h1v1h-1zM225 153h1v1h-1zM231 153h1v1h-1zM260 153h1v1h-1zM266 153h1v1h-1zM365 153h1v1h-1zM371 153h1v1h-1zM469 153h1v1h-1zM475 153h1v1h-1zM225 154h1v1h-1zM231 154h1v1h-1zM260 154h1v1h-1zM266 154h1v1h-1zM365 154h1v1h-1zM371 154h1v1h-1zM469 154h1v1h-1zM475 154h1v1h-1zM225 155h1v1h-1zM231 155h1v1h-1zM260 155h1v1h-1zM266 155h1v1h-1zM365 155h1v1h-1zM371 155h1v1h-1zM469 155h1v1h-1zM475 155h1v1h-1zM225 156h7v1h-7zM260 156h7v1h-7zM365 156h7v1h-7zM469 156h7v1h-7zM504 157h7v1h-7zM504 158h1v1h-1zM510 158h1v1h-1zM504 159h1v1h-1zM510 159h1v1h-1zM504 160h1v1h-1zM510 160h1v1h-1zM504 161h1v1h-1zM510 161h1v1h-1zM504 162h1v1h-1zM510 162h1v1h-1zM504 163h7v1h-7zM190 165h7v1h-7zM539 165h7v1h-7zM574 165h7v1h-7zM190 166h1v1h-1zM196 166h1v1h-1zM539 166h1v1h-1zM545 166h1v1h-1zM574 166h1v1h-1zM580 166h1v1h-1zM190 167h1v1h-1zM196 167h1v1h-1zM539 167h1v1h-1zM545 167h1v1h-1zM574 167h1v1h-1zM580 167h1v1h-1zM190 168h1v1h-1zM196 168h1v1h-1zM539 168h1v1h-1zM545 168h1v1h-1zM574 168h1v1h-1zM580 168h1v1h-1zM190 169h1v1h-1zM196 169h1v1h-1zM539 169h1v1h-1zM545 169h1v1h-1zM574 169h1v1h-1zM580 169h1v1h-1zM190 170h1v1h-1zM196 170h1v1h-1zM539 170h1v1h-1zM545 170h1v1h-1zM574 170h1v1h-1zM580 170h1v1h-1zM190 171h7v1h-7zM539 171h7v1h-7zM574 171h7v1h-7zM156 197h7v1h-7zM156 198h1v1h-1zM162 198h1v1h-1zM156 199h1v1h-1zM162 199h1v1h-1zM156 200h1v1h-1zM162 200h1v1h-1zM156 201h1v1h-1zM162 201h1v1h-1zM156 202h1v1h-1zM162 202h1v1h-1zM156 203h7v1h-7zM86 205h7v1h-7zM121 205h7v1h-7zM86 206h1v1h-1zM92 206h1v1h-1zM121 206h1v1h-1zM127 206h1v1h-1zM86 207h1v1h-1zM92 207h1v1h-1zM121 207h1v1h-1zM127 207h1v1h-1zM86 208h1v1h-1zM92 208h1v1h-1zM121 208h1v1h-1zM127 208h1v1h-1zM86 209h1v1h-1zM92 209h1v1h-1zM121 209h1v1h-1zM127 209h1v1h-1zM86 210h1v1h-1zM92 210h1v1h-1zM121 210h1v1h-1zM127 210h1v1h-1zM86 211h7v1h-7zM121 211h7v1h-7z"/>
</g>
</svg>
</body></html>
